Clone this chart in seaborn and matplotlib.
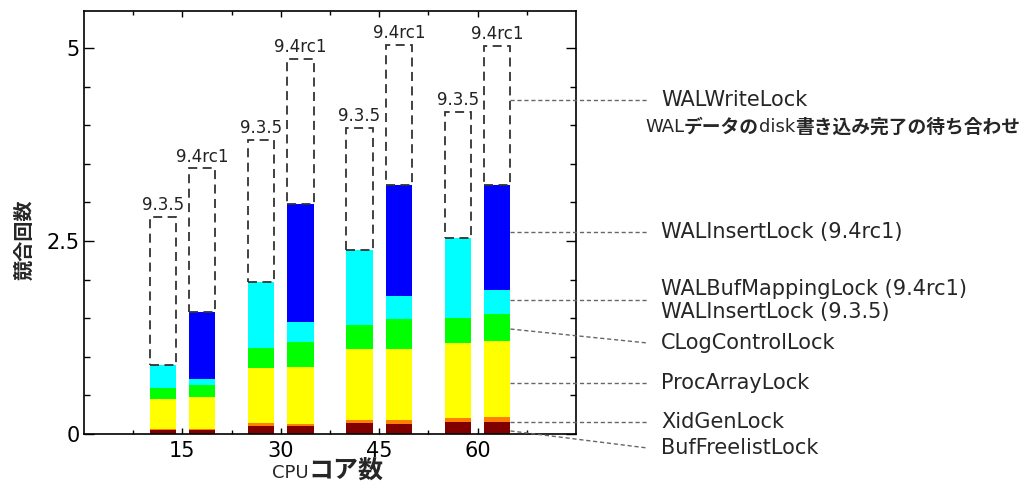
import numpy as np
import matplotlib
matplotlib.use("Agg")
import matplotlib.pyplot as plt
import seaborn as sns
from matplotlib.offsetbox import TextArea, HPacker, AnnotationBbox

# CPU core counts and PostgreSQL versions compared
cores = [15, 30, 45, 60]
versions = ["9.3.5", "9.4rc1"]

# lock contention counts, 9.3.5
buf_935 = [0.05, 0.10, 0.14, 0.155]
xid_935 = [0.01, 0.04, 0.04, 0.055]
proc_935 = [0.40, 0.72, 0.92, 0.97]
clog_935 = [0.14, 0.26, 0.31, 0.32]
walins_935 = [0.29, 0.85, 0.97, 1.04]
walwrite_935 = [1.92, 1.84, 1.59, 1.63]

# lock contention counts, 9.4rc1
buf_94 = [0.05, 0.10, 0.13, 0.155]
xid_94 = [0.01, 0.03, 0.05, 0.065]
proc_94 = [0.415, 0.74, 0.92, 0.98]
clog_94 = [0.155, 0.32, 0.39, 0.36]
bufmap_94 = [0.08, 0.26, 0.30, 0.31]
walins_94 = [0.87, 1.53, 1.43, 1.36]
walwrite_94 = [1.86, 1.88, 1.82, 1.80]

lock_labels = [
    "BufFreelistLock",
    "XidGenLock",
    "ProcArrayLock",
    "CLogControlLock",
    "WALBufMappingLock (9.4rc1)\nWALInsertLock (9.3.5)",
    "WALInsertLock (9.4rc1)",
    "WALWriteLock",
]
subtitle_parts = [("WAL", False), ("データの", True), ("disk", False),
                  ("書き込み完了の待ち合わせ", True)]

layer_colors = ["#800000", "#ff8000", "#ffff00", "#00ff00", "#00ffff", "#0000ff"]

sns.set_style("ticks")
plt.rcParams["font.family"] = ["DejaVu Sans", "Noto Sans CJK JP"]
plt.rcParams["axes.linewidth"] = 1.2

fig = plt.figure(figsize=(10.24, 4.83), dpi=100)
ax = fig.add_axes([0.082, 0.1014, 0.4805, 0.8758])

# bar positions: 9.3.5 left of the core count, 9.4rc1 right of it
offset = 3.0
bar_w = 4.0
pos = np.array([c - offset for c in cores] + [c + offset for c in cores], dtype=float)

zeros = [0.0] * len(cores)
stack = np.array([
    buf_935 + buf_94,
    xid_935 + xid_94,
    proc_935 + proc_94,
    clog_935 + clog_94,
    walins_935 + bufmap_94,
    zeros + walins_94,
])
walwrite = np.array(walwrite_935 + walwrite_94)
cum = np.cumsum(stack, axis=0)
colored_top = cum[-1]
totals = colored_top + walwrite

# draw cumulative layers from the top down so each lower layer overlays
for i in reversed(range(stack.shape[0])):
    keep = stack[i] > 0
    x = pos[keep]
    native = np.diff(np.unique(x)).min() if len(x) > 1 else 1.0
    sns.barplot(x=x, y=cum[i][keep], native_scale=True, width=bar_w / native,
                color=layer_colors[i], saturation=1, linewidth=0,
                errorbar=None, ax=ax)

# WALWriteLock portion as dashed open boxes
ax.bar(pos, walwrite, bottom=colored_top, width=bar_w, fill=False,
       edgecolor="#333333", linestyle=(0, (5, 3)), linewidth=1.3, zorder=3)

# version labels above each bar
for j, (p, t) in enumerate(zip(pos, totals)):
    ax.annotate(versions[0] if j < len(cores) else versions[1], (p, t),
                xytext=(0, 2), textcoords="offset points", ha="center",
                va="bottom", fontsize=12, color="#222222")

ax.set_xlim(0, 75)
ax.set_ylim(0, 5.48)
ax.set_xticks(cores)
ax.set_xticklabels([str(c) for c in cores])
ax.set_xticks([7.5, 22.5, 37.5, 52.5, 67.5], minor=True)
ax.set_yticks([0, 2.5, 5])
ax.set_yticklabels(["0", "2.5", "5"])
ax.set_yticks(np.arange(0.5, 5.5, 0.5), minor=True)
ax.tick_params(axis="both", which="both", direction="in", top=True, right=True,
               labelsize=15, colors="black", width=1)
ax.tick_params(axis="x", which="major", length=4, pad=5)
ax.tick_params(axis="x", which="minor", length=3)
ax.tick_params(axis="y", which="major", length=7, pad=3)
ax.tick_params(axis="y", which="minor", length=4.5)
for s in ax.spines.values():
    s.set_visible(True)
    s.set_color("black")

ax.set_xlabel("")
ax.set_ylabel("競合回数", fontsize=14.5, fontweight="bold",
              family=["Noto Sans CJK JP"])
ax.yaxis.set_label_coords(-0.1, 0.459)

# x-axis label with mixed weights
xl = HPacker(children=[
    TextArea("CPU", textprops=dict(fontsize=13, family="DejaVu Sans")),
    TextArea("コア数", textprops=dict(fontsize=18, fontweight="bold",
                                      family="Noto Sans CJK JP")),
], align="baseline", pad=0, sep=0)
fig.add_artist(AnnotationBbox(xl, (328 / 1024, 12 / 483), xycoords="figure fraction",
                              box_alignment=(0.5, 0.5), frameon=False, pad=0))

# leader lines from the last bar to the lock names
x_start = pos[-1] + bar_w / 2
x_end = 85.8
x_text = 88.0
leaders = [  # (start y, end y)
    (0.04, -0.18),
    (0.16, 0.16),
    (0.66, 0.66),
    (1.36, 1.18),
    (1.73, 1.73),
    (2.62, 2.62),
    (4.33, 4.33),
]
for label, (y0, y1) in zip(lock_labels, leaders):
    ax.plot([x_start, x_end], [y0, y1], color="#666666", lw=1,
            linestyle=(0, (3, 2)), clip_on=False, zorder=4)
    ax.text(x_text, y1, label, fontsize=15, va="center", ha="left",
            linespacing=1.15, clip_on=False)

sub = HPacker(children=[
    TextArea(t, textprops=dict(fontsize=13.5, fontweight="bold",
                               family="Noto Sans CJK JP") if bold
             else dict(fontsize=13, family="DejaVu Sans"))
    for t, bold in subtitle_parts
], align="baseline", pad=0, sep=0)
fig.add_artist(AnnotationBbox(sub, (645 / 1024, (483 - 127) / 483),
                              xycoords="figure fraction", box_alignment=(0, 0.5),
                              frameon=False, pad=0))

fig.savefig("out.png", dpi=100, facecolor="white")
